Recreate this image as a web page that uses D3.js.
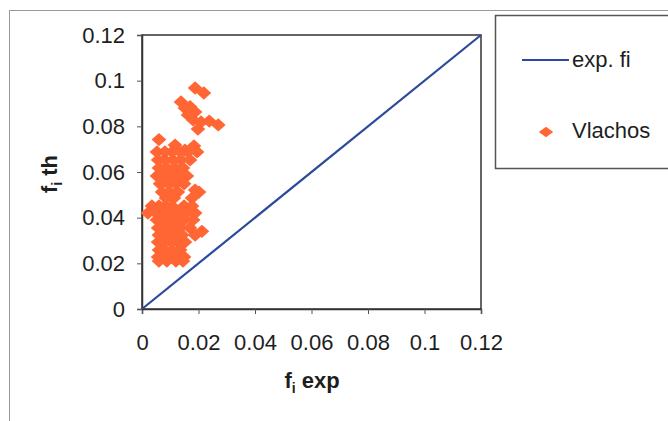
<!DOCTYPE html>
<style>
body { margin: 0; background: #fff; }
svg { font-family: "Liberation Sans", Arial, sans-serif; }
</style>
<svg width="668" height="421"></svg>
<script src="https://d3js.org/d3.v7.min.js"></script>
<script>

var xTicks = [0, 0.02, 0.04, 0.06, 0.08, 0.1, 0.12],
    yTicks = [0, 0.02, 0.04, 0.06, 0.08, 0.1, 0.12];

// exp. fi reference line (y = x)
var lineX = [0, 0.12],
    lineY = [0, 0.12];

// Vlachos points: fi exp (x) and fi th (y)
var vlachosX = [
  0.0188, 0.0219, 0.0138, 0.0152, 0.0170, 0.0188, 0.0163, 0.0181, 0.0209, 0.0238, 0.0270, 0.0198,
  0.0060, 0.0117, 0.0184, 0.0152,
  0.0053, 0.0081, 0.0106, 0.0135, 0.0163, 0.0195,
  0.0057, 0.0081, 0.0110, 0.0138, 0.0170,
  0.0060, 0.0088, 0.0117, 0.0145,
  0.0053, 0.0078, 0.0106, 0.0135, 0.0159,
  0.0064, 0.0092, 0.0120, 0.0149,
  0.0071, 0.0099, 0.0127, 0.0188, 0.0202,
  0.0085, 0.0113, 0.0177,
  0.0035, 0.0060, 0.0081, 0.0106, 0.0149, 0.0177,
  0.0021, 0.0050, 0.0074, 0.0099, 0.0127, 0.0156, 0.0188,
  0.0053, 0.0074, 0.0095, 0.0120, 0.0149, 0.0181,
  0.0057, 0.0078, 0.0106, 0.0135, 0.0170, 0.0212,
  0.0060, 0.0085, 0.0113, 0.0142, 0.0188,
  0.0057, 0.0078, 0.0103, 0.0127, 0.0152,
  0.0060, 0.0081, 0.0106, 0.0135,
  0.0057, 0.0078, 0.0103, 0.0127, 0.0149,
  0.0060, 0.0088, 0.0120, 0.0145];
var vlachosY = [
  0.0968, 0.0946, 0.0907, 0.0880, 0.0886, 0.0863, 0.0850, 0.0828, 0.0819, 0.0823, 0.0806, 0.0788,
  0.0742, 0.0718, 0.0714, 0.0696,
  0.0688, 0.0688, 0.0688, 0.0688, 0.0688, 0.0688,
  0.0653, 0.0653, 0.0653, 0.0653, 0.0653,
  0.0618, 0.0618, 0.0618, 0.0618,
  0.0583, 0.0583, 0.0583, 0.0583, 0.0583,
  0.0548, 0.0548, 0.0548, 0.0548,
  0.0512, 0.0512, 0.0512, 0.0521, 0.0512,
  0.0486, 0.0486, 0.0486,
  0.0451, 0.0451, 0.0451, 0.0451, 0.0451, 0.0451,
  0.0420, 0.0420, 0.0420, 0.0420, 0.0420, 0.0420, 0.0420,
  0.0390, 0.0390, 0.0390, 0.0390, 0.0390, 0.0390,
  0.0355, 0.0355, 0.0355, 0.0355, 0.0355, 0.0340,
  0.0324, 0.0324, 0.0324, 0.0324, 0.0324,
  0.0293, 0.0293, 0.0293, 0.0293, 0.0293,
  0.0258, 0.0258, 0.0258, 0.0258,
  0.0228, 0.0228, 0.0228, 0.0228, 0.0228,
  0.0210, 0.0210, 0.0210, 0.0210];

var svg = d3.select("svg");
var orange = "#FF6633", navy = "#2B4A9B", ink = "#1e1e1e";

// outer chart frame
svg.append("rect")
    .attr("x", 9.5).attr("y", 10.5)
    .attr("width", 700).attr("height", 500)
    .attr("fill", "none").attr("stroke", "#999").attr("stroke-width", 1);

var x = d3.scaleLinear().domain([0, 0.12]).range([142, 481]),
    y = d3.scaleLinear().domain([0, 0.12]).range([309, 35]);

// plot frame
svg.append("rect")
    .attr("x", x(0)).attr("y", y(0.12))
    .attr("width", x(0.12) - x(0)).attr("height", y(0) - y(0.12))
    .attr("fill", "#fff").attr("stroke", "#333").attr("stroke-width", 1.5);

var xAxis = svg.append("g")
    .attr("transform", "translate(0," + y(0) + ")")
    .call(d3.axisBottom(x).tickValues(xTicks).tickSize(5).tickPadding(20).tickFormat(d3.format("")));
var yAxis = svg.append("g")
    .attr("transform", "translate(" + x(0) + ",0)")
    .call(d3.axisLeft(y).tickValues(yTicks).tickSize(5).tickPadding(12).tickFormat(d3.format("")));

[xAxis, yAxis].forEach(function(a) {
  a.select(".domain").attr("stroke", "#333").attr("stroke-width", 1.5);
  a.selectAll(".tick line").attr("stroke", "#555");
  a.selectAll("text").attr("font-size", 22).attr("fill", ink)
      .attr("font-family", "Liberation Sans, Arial, sans-serif");
});

// diagonal line
var line = d3.line().x(function(d) { return x(d[0]); }).y(function(d) { return y(d[1]); });
svg.append("path")
    .datum(d3.zip(lineX, lineY))
    .attr("d", line)
    .attr("fill", "none").attr("stroke", navy).attr("stroke-width", 2.2);

// scatter diamonds
var diamond = d3.symbol().type(d3.symbolDiamond2).size(125);
svg.append("g").selectAll("path")
    .data(d3.zip(vlachosX, vlachosY))
  .enter().append("path")
    .attr("transform", function(d) { return "translate(" + x(d[0]) + "," + y(d[1]) + ") scale(1.05,0.95)"; })
    .attr("d", diamond)
    .attr("fill", orange);

// axis titles
var xt = svg.append("text")
    .attr("x", 312).attr("y", 388)
    .attr("text-anchor", "middle")
    .attr("font-size", 22).attr("font-weight", "bold").attr("fill", ink);
xt.append("tspan").text("f");
xt.append("tspan").attr("font-size", 14).attr("dy", 5).text("i");
xt.append("tspan").attr("dy", -5).text(" exp");

var yt = svg.append("text")
    .attr("transform", "translate(57,174) rotate(-90)")
    .attr("text-anchor", "middle")
    .attr("font-size", 22).attr("font-weight", "bold").attr("fill", ink);
yt.append("tspan").text("f");
yt.append("tspan").attr("font-size", 14).attr("dy", 5).text("i");
yt.append("tspan").attr("dy", -5).text(" th");

// legend
var legend = svg.append("g");
legend.append("rect")
    .attr("x", 495.5).attr("y", 15.5)
    .attr("width", 200).attr("height", 153)
    .attr("fill", "#fff").attr("stroke", "#555").attr("stroke-width", 1.5);
legend.append("line")
    .attr("x1", 522).attr("x2", 569).attr("y1", 60).attr("y2", 60)
    .attr("stroke", navy).attr("stroke-width", 2.2);
legend.append("text")
    .attr("x", 572).attr("y", 67)
    .attr("font-size", 22).attr("fill", ink).text("exp. fi");
legend.append("path")
    .attr("transform", "translate(546,132) scale(1.15,0.85)")
    .attr("d", d3.symbol().type(d3.symbolDiamond2).size(100))
    .attr("fill", orange);
legend.append("text")
    .attr("x", 572).attr("y", 138)
    .attr("font-size", 22).attr("fill", ink).text("Vlachos");

</script>
